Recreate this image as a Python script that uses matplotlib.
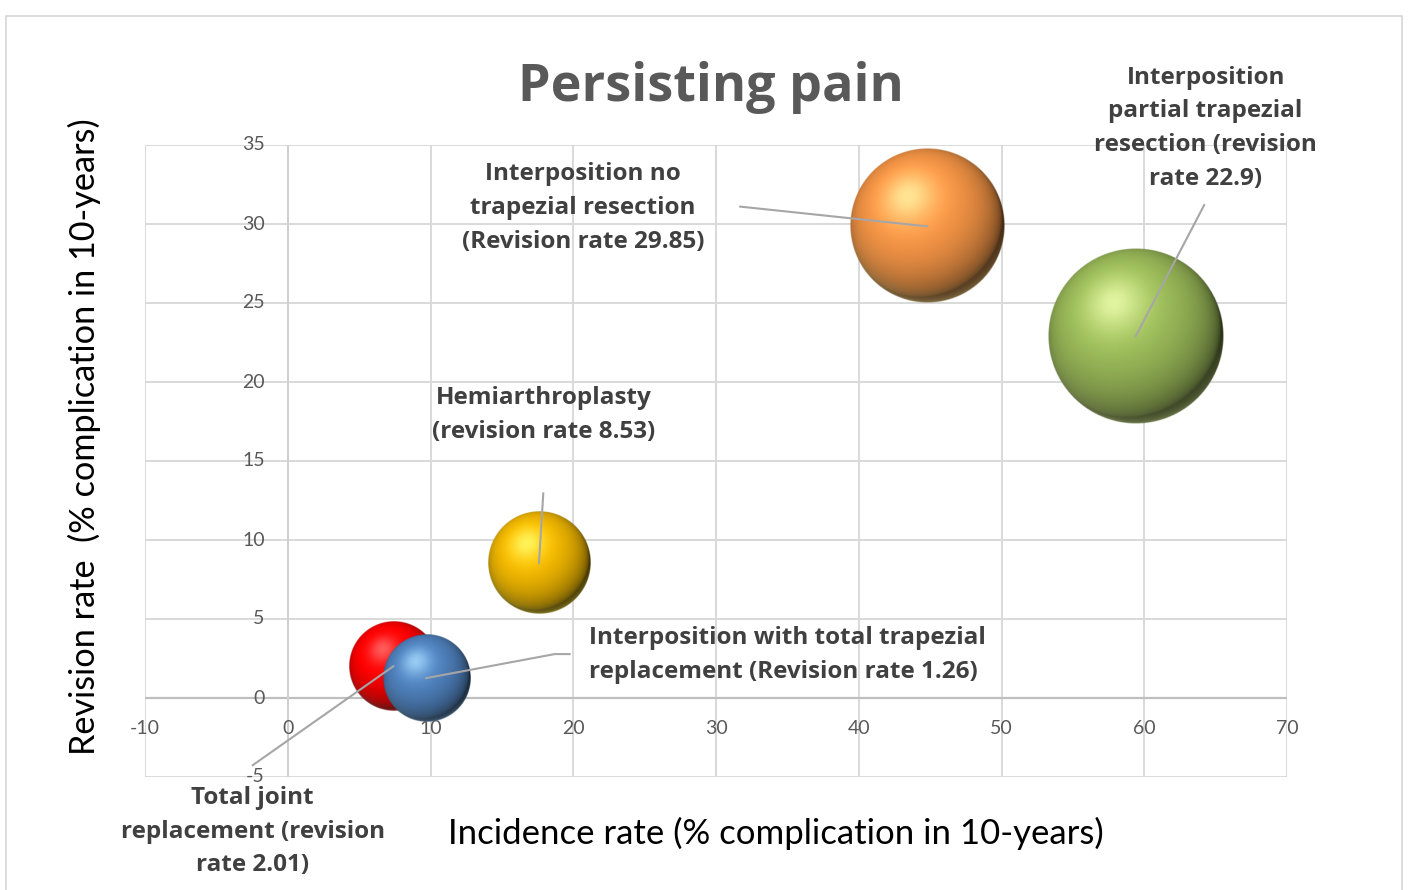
import numpy as np
import matplotlib
matplotlib.use('Agg')
import matplotlib.pyplot as plt
import matplotlib.colors as mcolors
from matplotlib.patches import Rectangle

plt.rcParams['font.family'] = ['Lato', 'DejaVu Sans']
BOLD = ['Open Sans', 'DejaVu Sans']

# data
labels = ['Total joint\nreplacement (revision\nrate 2.01)',
          'Interposition with total trapezial\nreplacement (Revision rate 1.26)',
          'Hemiarthroplasty\n(revision rate 8.53)',
          'Interposition no\ntrapezial resection\n(Revision rate 29.85)',
          'Interposition\npartial trapezial\nresection (revision\nrate 22.9)']
incidence = [7.4, 9.7, 17.6, 44.8, 59.4]
revision = [2.01, 1.26, 8.53, 29.85, 22.9]
bubble_size = [20, 19, 26, 59, 77]
base_colors = ['#ff0000', '#4f81bd', '#f2b800', '#f79646', '#9bbb59']
light_colors = ['#ff7070', '#a8dcff', '#ffff70', '#fff7a8', '#f0ffb0']

# label anchor (end of leader line) and text position, data coords
label_pos = [(-2.45, -8.45), (21.1, 2.72), (17.9, 17.9), (20.7, 31.0), (64.3, 36.05)]
leader_end = [(-2.45, -4.25), (19.75, 2.78), (17.9, 12.95), (31.7, 31.1), (64.2, 31.2)]
label_ha = ['center', 'left', 'center', 'center', 'center']

xticks = list(range(-10, 71, 10))
yticks = list(range(-5, 36, 5))


def sphere_rgba(base, light, n=300):
    base = np.array(mcolors.to_rgb(base))
    light = np.array(mcolors.to_rgb(light))
    g = np.linspace(-1, 1, n)
    X, Y = np.meshgrid(g, g)
    r = np.sqrt(X**2 + Y**2)
    Z = np.sqrt(np.clip(1 - r**2, 0, 1))
    L = np.array([-0.25, 0.38, 0.89])
    L = L / np.linalg.norm(L)
    diff = np.clip(X*L[0] + Y*L[1] + Z*L[2], 0, 1)
    shade = 0.28 + 0.8*diff**0.6
    rgb = base[None, None, :]*np.clip(shade, 0, 1.05)[..., None]
    spec = diff**18
    rgb = rgb + (light - rgb)*(0.8*spec)[..., None]
    # soft light rim at the bottom
    rim = np.clip(-Y, 0, 1)*np.clip(1 - Z, 0, 1)**2*0.45
    rgb = rgb + (light - rgb)*rim[..., None]
    rgb = np.clip(rgb, 0, 1)
    alpha = np.clip((1 - r)*n/2, 0, 1)
    return np.dstack([rgb, alpha])


fig = plt.figure(figsize=(14.08, 8.9), dpi=100)
ax = fig.add_axes([145/1408, 113/890, 1142/1408, 632/890])
ax.set_xlim(-10, 70)
ax.set_ylim(-5, 35)

for s in ax.spines.values():
    s.set_visible(False)
ax.set_xticks(xticks)
ax.set_yticks(yticks)
ax.tick_params(length=0, labelbottom=False, labelleft=False)
ax.grid(True, color='#d9d9d9', lw=1.4, zorder=0)
ax.set_axisbelow(True)
ax.axhline(0, color='#bfbfbf', lw=1.6, zorder=1)
ax.axvline(0, color='#cfcfcf', lw=1.4, zorder=1)

for v in yticks:
    ax.annotate(str(v), xy=(0, v), xytext=(-23, 0), textcoords='offset pixels',
                ha='right', va='center', fontsize=14, color='#595959', zorder=2)
for v in xticks:
    ax.annotate(str(v), xy=(v, 0), xytext=(0, -31), textcoords='offset pixels',
                ha='center', va='center', fontsize=14, color='#595959', zorder=2)

# bubbles: area proportional to size, largest radius 88 px
rmax = 88
inv = ax.transData.inverted()
for i in range(len(incidence)):
    R = rmax*np.sqrt(bubble_size[i]/max(bubble_size))
    cx, cy = ax.transData.transform((incidence[i], revision[i]))
    x0, y0 = inv.transform((cx - R, cy - R))
    x1, y1 = inv.transform((cx + R, cy + R))
    ax.imshow(sphere_rgba(base_colors[i], light_colors[i]), extent=(x0, x1, y0, y1),
              origin='lower', aspect='auto', interpolation='bilinear',
              zorder=3 + i*0.1, clip_on=False)
ax.set_xlim(-10, 70)
ax.set_ylim(-5, 35)

# leader lines and labels
for i in range(len(labels)):
    ex, ey = leader_end[i]
    if i == 1:
        ax.plot([incidence[i], 18.7, ex], [revision[i], ey, ey], color='#a6a6a6', lw=1.5,
                zorder=5, clip_on=False)
    else:
        ax.plot([incidence[i], ex], [revision[i], ey], color='#a6a6a6', lw=1.5,
                zorder=5, clip_on=False)
    tx, ty = label_pos[i]
    ax.text(tx, ty, labels[i], ha=label_ha[i], va='center', multialignment=label_ha[i],
            fontsize=17.5, fontweight='bold', family=BOLD, color='#404040',
            linespacing=1.55, zorder=6, clip_on=False)

fig.text(711/1408, 1 - 88/890, 'Persisting pain', ha='center', va='center',
         fontsize=37.5, fontweight='bold', family=BOLD, color='#595959')
fig.text(776/1408, 1 - 833/890, 'Incidence rate (% complication in 10-years)',
         ha='center', va='center', fontsize=25, color='#000000')
fig.text(84/1408, 1 - 437/890, 'Revision rate  (% complication in 10-years)',
         ha='center', va='center', rotation=90, fontsize=24.7, color='#000000')

fig.patches.append(Rectangle((6/1408, -0.01), 1396/1408, 1.001 - 8/890,
                             transform=fig.transFigure, fill=False,
                             ec='#d9d9d9', lw=1.3))

fig.savefig('out.png', dpi=100)
